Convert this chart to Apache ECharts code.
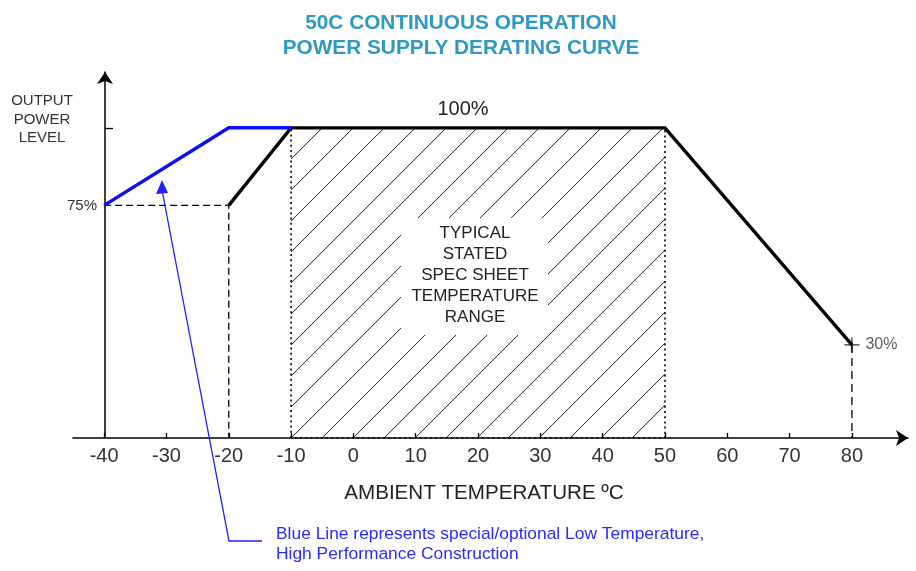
<!DOCTYPE html>
<html><head><meta charset="utf-8">
<script src="https://cdn.jsdelivr.net/npm/echarts@6/dist/echarts.min.js"></script>
<style>html,body{margin:0;padding:0;background:#fff}#c{width:916px;height:571px}</style>
</head><body><div id="c"></div>
<script>
const xTicks = [-40, -30, -20, -10, 0, 10, 20, 30, 40, 50, 60, 70, 80];
const blueLine = [[-40, 75], [-20, 100], [-10, 100]];
const blackLine = [[-20, 75], [-10, 100], [50, 100], [80, 30]];
const dashLeft = [[-40, 75], [-20, 75], [-20, 0]];
const dashRight = [[80, 30], [80, 0]];
const specRange = [[-10, 50, 0, 100]];
const specBorder = [[-10, 0], [-10, 100], [50, 100], [50, 0], [-10, 0]];
const endPoint = [[80, 30]];
const yLabelValues = [75];
const yTickValues = [100];
const titleLines = ['50C CONTINUOUS OPERATION', 'POWER SUPPLY DERATING CURVE'];
const yName = ['OUTPUT', 'POWER', 'LEVEL'];
const xName = 'AMBIENT TEMPERATURE ºC';
const topLabel = '100%';
const rangeText = ['TYPICAL', 'STATED', 'SPEC SHEET', 'TEMPERATURE', 'RANGE'];
const noteText = ['Blue Line represents special/optional Low Temperature,', 'High Performance Construction'];

const FONT = "'Liberation Sans', Arial, sans-serif";
const chart = echarts.init(document.getElementById('c'), null, {renderer: 'canvas'});

function hatch(params, api) {
  const p0 = api.coord([api.value(0), api.value(2)]);
  const p1 = api.coord([api.value(1), api.value(3)]);
  const x0 = p0[0], y0 = p0[1], x1 = p1[0], y1 = p1[1];
  const W = x1 - x0, H = y0 - y1, gap = 31;
  const children = [];
  for (let c = -Math.floor(H / gap) * gap; c < W; c += gap) {
    const tmin = Math.max(0, -c), tmax = Math.min(H, W - c);
    if (tmax > tmin) {
      children.push({
        type: 'line',
        shape: {x1: x0 + c + tmin, y1: y0 - tmin, x2: x0 + c + tmax, y2: y0 - tmax},
        style: {stroke: '#222', lineWidth: 1}
      });
    }
  }
  return {type: 'group', children: children};
}

const option = {
  animation: false,
  backgroundColor: '#fff',
  grid: {left: 73, right: 8, top: 72, bottom: 133, containLabel: false},
  xAxis: {
    type: 'value', min: -45, max: 89,
    splitLine: {show: false},
    axisLine: {onZero: true, lineStyle: {color: '#000', width: 1.5}, symbol: ['none', 'arrow'], symbolSize: [12, 12]},
    axisTick: {show: true, inside: true, length: 5, customValues: xTicks, lineStyle: {color: '#000', width: 1.3}},
    axisLabel: {customValues: xTicks, color: '#333', fontSize: 20, fontFamily: FONT, margin: 8}
  },
  yAxis: {
    type: 'value', min: 0, max: 118, offset: -32,
    splitLine: {show: false},
    axisLine: {onZero: false, lineStyle: {color: '#000', width: 1.5}, symbol: ['none', 'arrow'], symbolSize: [12, 12]},
    axisTick: {show: true, inside: true, length: 8, customValues: yTickValues, lineStyle: {color: '#000', width: 1.3}},
    axisLabel: {customValues: yLabelValues, formatter: '{value}%', color: '#333', fontSize: 15, fontFamily: FONT, margin: 8}
  },
  series: [
    {type: 'custom', z: 1, renderItem: hatch, data: specRange, encode: {x: [0, 1], y: [2, 3]}, silent: true},
    {type: 'line', z: 3, data: specBorder, symbol: 'none', silent: true,
      lineStyle: {color: '#000', width: 1.6, type: [2, 3.2]}},
    {type: 'line', z: 3, data: dashLeft, symbol: 'none', silent: true,
      lineStyle: {color: '#000', width: 1.3, type: [7, 4]}},
    {type: 'line', z: 3, data: dashRight, symbol: 'none', silent: true,
      lineStyle: {color: '#000', width: 1.3, type: [8, 5]}},
    {type: 'line', z: 4, data: blackLine, symbol: 'none', silent: true,
      lineStyle: {color: '#000', width: 3.4, join: 'miter'}},
    {type: 'line', z: 5, data: blueLine, symbol: 'none', silent: true,
      lineStyle: {color: '#0a10f5', width: 3.5, join: 'miter'}},
    {type: 'scatter', z: 6, data: endPoint, silent: true,
      symbol: 'path://M0,6.4H14V7.6H0Z M6.4,0H7.6V14H6.4Z', symbolSize: 15,
      itemStyle: {color: '#000'},
      label: {show: true, position: 'right', distance: 6, formatter: '30%', color: '#333', fontSize: 16, fontFamily: FONT}}
  ],
  graphic: [
    {type: 'text', z: 100, x: 461, y: 11, style: {text: titleLines.join('\n'), fill: '#2e9ac4', font: 'bold 20.8px ' + FONT, textAlign: 'center', lineHeight: 25}},
    {type: 'text', z: 100, x: 42, y: 92, style: {text: yName.join('\n'), fill: '#333', font: '15px ' + FONT, textAlign: 'center', lineHeight: 18.5}},
    {type: 'text', z: 100, x: 484, y: 483, style: {text: xName, fill: '#222', font: '20.6px ' + FONT, textAlign: 'center'}},
    {type: 'text', z: 100, x: 463, y: 99, style: {text: topLabel, fill: '#222', font: '20px ' + FONT, textAlign: 'center'}},
    {type: 'rect', z: 100, shape: {x: 401, y: 218, width: 147, height: 117}, style: {fill: '#fff'}},
    {type: 'text', z: 101, x: 475, y: 223, style: {text: rangeText.join('\n'), fill: '#222', font: '17px ' + FONT, textAlign: 'center', lineHeight: 20.9}},
    {type: 'polyline', z: 100, shape: {points: [[162, 190], [229, 541], [262, 541]]}, style: {stroke: '#2020ff', lineWidth: 1.3, fill: null}},
    {type: 'polygon', z: 100, shape: {points: [[162, 180], [156, 194], [168, 193]]}, style: {fill: '#2020ff'}},
    {type: 'text', z: 100, x: 276, y: 524, style: {text: noteText.join('\n'), fill: '#2b2bff', font: '17.4px ' + FONT, textAlign: 'left', lineHeight: 20}}
  ]
};
chart.setOption(option);
</script>
</body></html>
